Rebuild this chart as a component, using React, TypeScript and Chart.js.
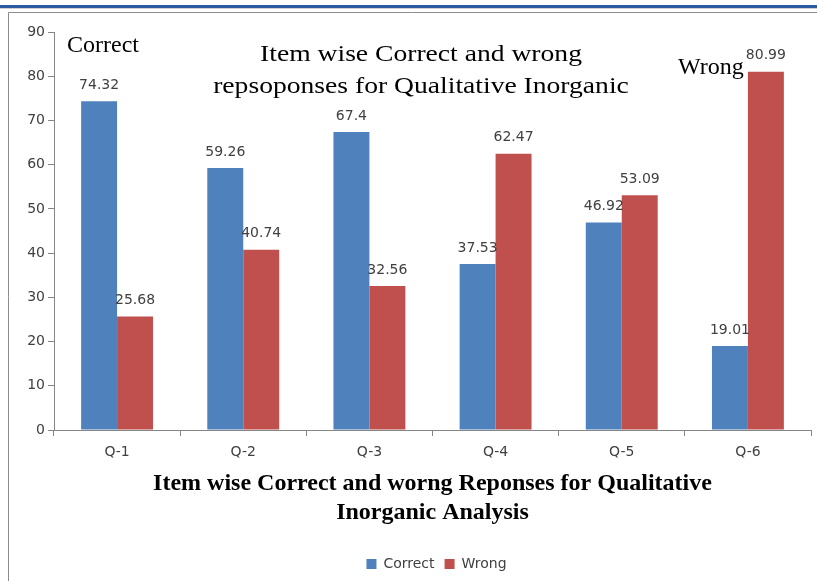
import React, { useEffect, useRef } from "react";
import { Chart, registerables } from "chart.js";

Chart.register(...registerables);

const categories = ["Q-1", "Q-2", "Q-3", "Q-4", "Q-5", "Q-6"];
const correctValues = [74.32, 59.26, 67.4, 37.53, 46.92, 19.01];
const wrongValues = [25.68, 40.74, 32.56, 62.47, 53.09, 80.99];
const yTicks = [0, 10, 20, 30, 40, 50, 60, 70, 80, 90];
const chartTitle = ["Item wise Correct and wrong", "repsoponses for Qualitative Inorganic"];
const xTitle = ["Item wise Correct and worng Reponses for Qualitative", "Inorganic Analysis"];
const seriesNames = ["Correct", "Wrong"];

const BLUE = "#4F81BD";
const RED = "#C0504D";
const AXIS = "#868686";
const TEXT = "#404040";

const framePlugin = {
  id: "frame",
  beforeDraw(chart: any) {
    const ctx = chart.ctx;
    ctx.save();
    ctx.fillStyle = "#ffffff";
    ctx.fillRect(0, 0, chart.width, chart.height);
    ctx.fillStyle = "#2B5AA3";
    ctx.fillRect(0, 5, chart.width, 3);
    ctx.fillStyle = "#d0d0d0";
    ctx.fillRect(0, 8, chart.width, 1);
    ctx.strokeStyle = "#8c8c8c";
    ctx.lineWidth = 1;
    ctx.beginPath();
    ctx.moveTo(8.5, chart.height);
    ctx.lineTo(8.5, 12.5);
    ctx.lineTo(chart.width, 12.5);
    ctx.stroke();
    ctx.restore();
  },
};

const legendShiftPlugin = {
  id: "legendShift",
  afterLayout(chart: any) {
    const lg = chart.legend;
    if (!lg) return;
    const ca = chart.chartArea;
    const target = (ca.left + ca.right) / 2 + 4;
    const current = (lg.left + lg.right) / 2;
    const dx = target - current;
    lg.left += dx;
    lg.right += dx;
  },
};

const labelsPlugin = {
  id: "labelsAndTitle",
  afterDatasetsDraw(chart: any) {
    const ctx = chart.ctx;
    ctx.save();
    ctx.font = '14px "DejaVu Sans"';
    ctx.fillStyle = TEXT;
    ctx.textAlign = "center";
    ctx.textBaseline = "middle";
    chart.data.datasets.forEach((ds: any, di: number) => {
      const meta = chart.getDatasetMeta(di);
      meta.data.forEach((el: any, i: number) => {
        ctx.fillText(String(ds.data[i]), el.x, el.y - 16);
      });
    });

    // chart title (serif, slightly stretched)
    ctx.fillStyle = "#000000";
    ctx.font = '24px "Liberation Serif"';
    ctx.textBaseline = "alphabetic";
    const cx = 421;
    const baselines = [61, 93];
    chartTitle.forEach((line, i) => {
      ctx.save();
      ctx.translate(cx, baselines[i]);
      ctx.scale(1.15, 1);
      ctx.fillText(line, 0, 0);
      ctx.restore();
    });

    // series annotations
    ctx.textAlign = "left";
    ctx.font = '24px "Liberation Serif"';
    ctx.fillText(seriesNames[0], 67, 52);
    ctx.fillText(seriesNames[1], 678, 74);
    ctx.restore();
  },
};

export default function App() {
  const ref = useRef<HTMLCanvasElement | null>(null);

  useEffect(() => {
    if (!ref.current) return;
    const chart = new Chart(ref.current, {
      type: "bar",
      data: {
        labels: categories,
        datasets: [
          {
            label: seriesNames[0],
            data: correctValues,
            backgroundColor: BLUE,
            barPercentage: 1,
            categoryPercentage: 0.57,
          },
          {
            label: seriesNames[1],
            data: wrongValues,
            backgroundColor: RED,
            barPercentage: 1,
            categoryPercentage: 0.57,
          },
        ],
      },
      options: {
        responsive: false,
        animation: false,
        devicePixelRatio: 1,
        layout: { padding: { top: 32, right: 6, left: 0, bottom: 0 } },
        plugins: {
          title: { display: false },
          tooltip: { enabled: false },
          legend: {
            display: true,
            position: "bottom",
            labels: {
              boxWidth: 10,
              boxHeight: 10,
              padding: 10,
              color: TEXT,
              font: { family: "DejaVu Sans", size: 14 },
            },
          },
        },
        scales: {
          x: {
            grid: {
              display: true,
              drawOnChartArea: false,
              tickLength: 6,
              color: AXIS,
              offset: true,
            },
            border: { display: true, color: AXIS },
            ticks: {
              color: TEXT,
              padding: 8,
              font: { family: "DejaVu Sans", size: 14 },
            },
            title: {
              display: true,
              text: xTitle,
              color: "#000000",
              font: { family: "Liberation Serif", size: 24, weight: "bold", lineHeight: 1.21 },
              padding: { top: 0, bottom: 20 },
            },
            afterFit(scale: any) {
              scale.height = 117;
            },
          },
          y: {
            min: 0,
            max: 90,
            afterBuildTicks(scale: any) {
              scale.ticks = yTicks.map((v) => ({ value: v }));
            },
            grid: {
              display: true,
              drawOnChartArea: false,
              tickLength: 6,
              color: AXIS,
            },
            border: { display: true, color: AXIS },
            ticks: {
              color: TEXT,
              padding: 3,
              font: { family: "DejaVu Sans", size: 14 },
            },
            afterFit(scale: any) {
              scale.width = 54;
            },
          },
        },
      },
      plugins: [framePlugin, legendShiftPlugin, labelsPlugin],
    });
    return () => chart.destroy();
  }, []);

  return (
    <div style={{ position: "fixed", left: 0, top: 0, width: 817, height: 581, background: "#fff" }}>
      <canvas ref={ref} width={817} height={581} style={{ width: 817, height: 581, display: "block" }} />
    </div>
  );
}
